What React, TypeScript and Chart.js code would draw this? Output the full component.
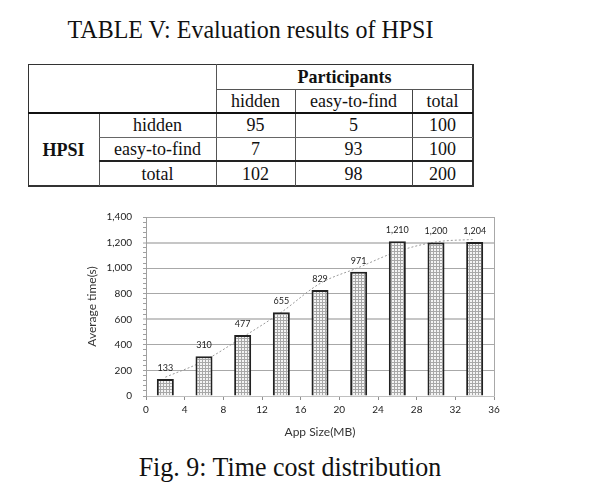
import React, { useEffect, useRef } from "react";
import { Chart, registerables } from "chart.js";

Chart.register(...registerables);

// ---- Table data ----
const tableTitle = "TABLE V: Evaluation results of HPSI";
const groupHeader = "Participants";
const rowGroup = "HPSI";
const classLabels = ["hidden", "easy-to-find", "total"];
const tableValues = [
  [95, 5, 100],
  [7, 93, 100],
  [102, 98, 200],
];

// ---- Chart data ----
const appSizes = [2, 6, 10, 14, 18, 22, 26, 30, 34];
const avgTimes = [133, 310, 477, 655, 829, 971, 1210, 1200, 1204];
const trendSizes = [2, 6, 10, 14, 18, 22, 26, 30, 34];
const trendTimes = [147, 275, 460, 655, 880, 1005, 1130, 1205, 1225];
const xTitle = "App Size(MB)";
const yTitle = "Average time(s)";
const caption = "Fig. 9: Time cost distribution";

const SERIF = '"Liberation Serif", "Times New Roman", serif';
const SANS = "Lato";

function makePattern(): CanvasPattern | string {
  const c = document.createElement("canvas");
  c.width = 3;
  c.height = 3;
  const g = c.getContext("2d");
  if (!g) return "#c8c8c8";
  g.fillStyle = "#f4f4f4";
  g.fillRect(0, 0, 3, 3);
  g.fillStyle = "#a8a8a8";
  g.fillRect(0, 0, 3, 1);
  g.fillRect(0, 0, 1, 3);
  return g.createPattern(c, "repeat") || "#c8c8c8";
}

const labelsPlugin = {
  id: "barLabels",
  afterDatasetsDraw(chart: any) {
    const ctx = chart.ctx;
    const meta = chart.getDatasetMeta(0);
    ctx.save();
    ctx.font = `9px ${SANS}`;
    ctx.fillStyle = "#222";
    ctx.textAlign = "center";
    ctx.textBaseline = "middle";
    meta.data.forEach((el: any, i: number) => {
      ctx.fillText(avgTimes[i].toLocaleString("en-US"), el.x, el.y - 11);
    });
    ctx.restore();
  },
};

const framePlugin = {
  id: "frame",
  beforeDatasetsDraw(chart: any) {
    const { ctx, chartArea } = chart;
    ctx.save();
    ctx.strokeStyle = "#a8a8a8";
    ctx.lineWidth = 1;
    ctx.beginPath();
    ctx.moveTo(Math.round(chartArea.right) + 0.5, chartArea.top);
    ctx.lineTo(Math.round(chartArea.right) + 0.5, chartArea.bottom);
    ctx.stroke();
    ctx.restore();
  },
};

function ChartCanvas() {
  const ref = useRef<HTMLCanvasElement | null>(null);
  useEffect(() => {
    let chart: Chart | null = null;
    let cancelled = false;
    const make = () => {
      if (cancelled || !ref.current) return;
      const pattern = makePattern();
      chart = new Chart(ref.current, {
        type: "bar",
        data: {
          datasets: [
            {
              type: "bar",
              label: "Average time",
              data: appSizes.map((x, i) => ({ x, y: avgTimes[i] })),
              backgroundColor: pattern as any,
              borderColor: "#222",
              borderWidth: 2,
              barPercentage: 0.44,
              categoryPercentage: 1,
              order: 1,
            } as any,
            {
              type: "line",
              label: "Trend",
              data: trendSizes.map((x, i) => ({ x, y: trendTimes[i] })),
              borderColor: "#9a9a9a",
              borderWidth: 1,
              borderDash: [2, 2],
              pointRadius: 0,
              cubicInterpolationMode: "monotone",
              order: 2,
            } as any,
          ],
        },
        options: {
          animation: false,
          responsive: false,
          layout: { padding: { left: 0, right: 26, top: 14, bottom: 0 } },
          plugins: { legend: { display: false }, tooltip: { enabled: false } },
          scales: {
            x: {
              type: "linear",
              min: 0,
              max: 36,
              offset: false,
              afterFit: (s: any) => {
                s.height = 49;
              },
              ticks: {
                stepSize: 4,
                padding: 4,
                color: "#222",
                font: { family: SANS, size: 10 },
              },
              grid: {
                offset: false,
                drawOnChartArea: false,
                drawTicks: true,
                tickLength: 4,
                tickColor: "#909090",
              },
              border: { display: true, color: "#c0c0c0", width: 1 },
              title: {
                display: true,
                text: xTitle,
                color: "#333",
                font: { family: SANS, size: 12 },
                padding: { top: 0, bottom: 6 },
              },
            },
            y: {
              type: "linear",
              min: 0,
              max: 1400,
              afterFit: (s: any) => {
                s.width = 76;
              },
              ticks: {
                stepSize: 40,
                autoSkip: false,
                padding: 11,
                color: "#222",
                font: { family: SANS, size: 10 },
                callback: (v: any) =>
                  Number(v) % 200 === 0 ? Number(v).toLocaleString("en-US") : "",
              },
              grid: {
                drawTicks: true,
                tickLength: 3,
                tickWidth: 1,
                tickColor: "#a0a0a0",
                color: (c: any) => {
                  const v = c.tick ? c.tick.value : -1;
                  if (v <= 0 || v % 200 !== 0) return "rgba(0,0,0,0)";
                  return v === 600 || v === 1200 ? "#c6c6c6" : "#a8a8a8";
                },
                lineWidth: (c: any) => {
                  const v = c.tick ? c.tick.value : -1;
                  return v === 600 || v === 1200 ? 2 : 1;
                },
              },
              border: { display: true, color: "#a0a0a0", width: 1 },
              title: {
                display: true,
                text: yTitle,
                color: "#333",
                font: { family: SANS, size: 12 },
                padding: { top: 15, bottom: 0 },
              },
            },
          },
        } as any,
        plugins: [framePlugin, labelsPlugin],
      });
    };
    const fonts: any = (document as any).fonts;
    const p = fonts
      ? Promise.all([fonts.load(`10px ${SANS}`), fonts.load(`12px ${SANS}`)])
      : Promise.resolve();
    p.then(make, make);
    return () => {
      cancelled = true;
      if (chart) chart.destroy();
    };
  }, []);
  return (
    <canvas
      ref={ref}
      width={450}
      height={245}
      style={{ position: "absolute", left: 70, top: 200, width: 450, height: 245 }}
    />
  );
}

type CellProps = { x: number; y: number; w: number; h: number; text?: string | number; bold?: boolean };
function Cell({ x, y, w, h, text, bold }: CellProps) {
  return (
    <div
      style={{
        position: "absolute",
        left: x,
        top: y,
        width: w,
        height: h,
        display: "flex",
        alignItems: "center",
        justifyContent: "center",
        fontFamily: SERIF,
        fontSize: 18,
        lineHeight: 1,
        fontWeight: bold ? "bold" : "normal",
        color: "#111",
      }}
    >
      <span style={{ display: "inline-block", transform: "scaleY(1.08)" }}>{text}</span>
    </div>
  );
}

function HLine({ x1, x2, y, w = 1, c = "#444" }: { x1: number; x2: number; y: number; w?: number; c?: string }) {
  return <div style={{ position: "absolute", left: x1, top: y, width: x2 - x1, height: w, background: c }} />;
}
function VLine({ x, y1, y2, w = 1, c = "#444" }: { x: number; y1: number; y2: number; w?: number; c?: string }) {
  return <div style={{ position: "absolute", left: x, top: y1, width: w, height: y2 - y1, background: c }} />;
}

export default function App() {
  const colX = [28, 99, 216, 295, 412, 473];
  const rowY = [64, 89, 113, 137, 161, 186];
  return (
    <div style={{ position: "absolute", left: 0, top: 0, width: 601, height: 488, background: "#fff", overflow: "hidden" }}>
      <div
        style={{
          position: "absolute",
          left: 28,
          width: 445,
          top: 17,
          textAlign: "center",
          fontFamily: SERIF,
          fontSize: 24,
          lineHeight: "24px",
          color: "#111",
          whiteSpace: "nowrap",
          transform: "scaleY(1.07)",
        }}
      >
        {tableTitle}
      </div>

      {/* table cells */}
      <Cell x={colX[2]} y={rowY[0]} w={colX[5] - colX[2]} h={rowY[1] - rowY[0]} text={groupHeader} bold />
      {classLabels.map((t, i) => (
        <Cell key={"h" + i} x={colX[2 + i]} y={rowY[1]} w={colX[3 + i] - colX[2 + i]} h={rowY[2] - rowY[1]} text={t} />
      ))}
      <Cell x={colX[0]} y={rowY[2]} w={colX[1] - colX[0]} h={rowY[5] - rowY[2]} text={rowGroup} bold />
      {classLabels.map((t, r) => (
        <React.Fragment key={"r" + r}>
          <Cell x={colX[1]} y={rowY[2 + r]} w={colX[2] - colX[1]} h={rowY[3 + r] - rowY[2 + r]} text={t} />
          {tableValues[r].map((v, c) => (
            <Cell key={c} x={colX[2 + c]} y={rowY[2 + r]} w={colX[3 + c] - colX[2 + c]} h={rowY[3 + r] - rowY[2 + r]} text={v} />
          ))}
        </React.Fragment>
      ))}

      {/* table rules */}
      <HLine x1={28} x2={473} y={64} w={1} c="#333" />
      <VLine x={28} y1={64} y2={187} w={1} c="#333" />
      <VLine x={472} y1={64} y2={187} w={2} c="#333" />
      <HLine x1={28} x2={474} y={185} w={2} c="#333" />
      <VLine x={216} y1={64} y2={186} w={1} c="#555" />
      <VLine x={295} y1={89} y2={186} w={1} c="#555" />
      <VLine x={412} y1={89} y2={186} w={1} c="#444" />
      <VLine x={99} y1={113} y2={186} w={1} c="#555" />
      <HLine x1={216} x2={473} y={89} w={1} c="#555" />
      <HLine x1={28} x2={473} y={112} w={2} c="#111" />
      <HLine x1={99} x2={473} y={137} w={1} c="#666" />
      <HLine x1={99} x2={473} y={160} w={2} c="#222" />

      <ChartCanvas />

      <div
        style={{
          position: "absolute",
          left: 40,
          width: 500,
          top: 455,
          textAlign: "center",
          fontFamily: SERIF,
          fontSize: 26,
          lineHeight: "26px",
          color: "#111",
          whiteSpace: "nowrap",
          transform: "scaleY(1.05)",
        }}
      >
        {caption}
      </div>
    </div>
  );
}
